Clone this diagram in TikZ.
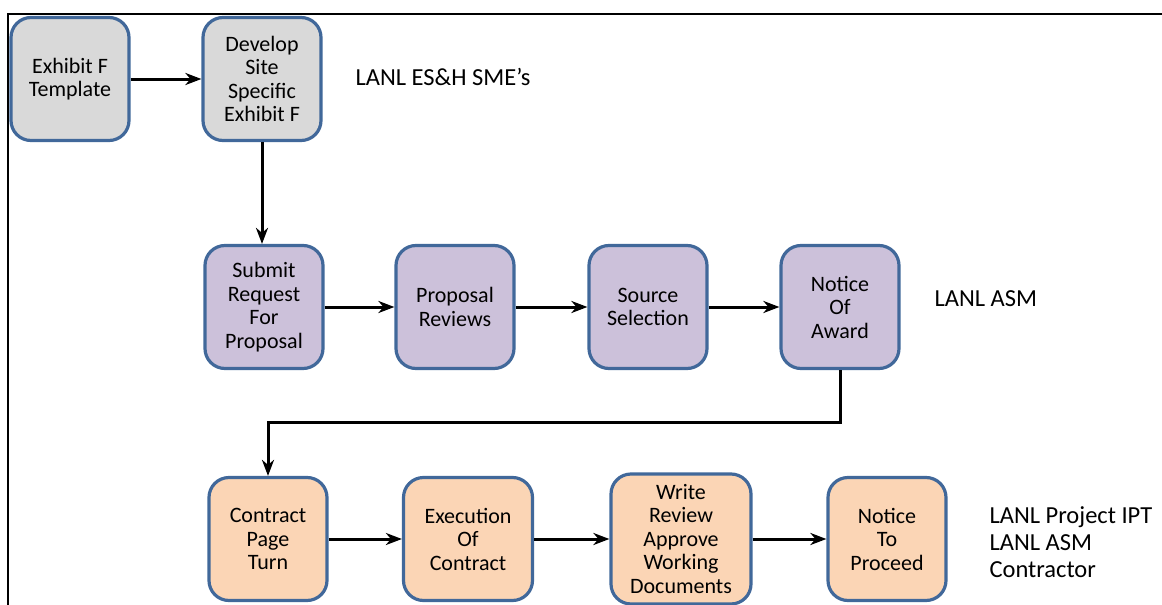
\documentclass[tikz,border=0pt]{standalone}
\usepackage{fontspec}
\setmainfont{Carlito}
\usetikzlibrary{arrows.meta}
\definecolor{boxblue}{HTML}{41689A}
\definecolor{boxgrey}{HTML}{D9D9D9}
\definecolor{boxlilac}{HTML}{CCC1DA}
\definecolor{boxpeach}{HTML}{FBD5B5}
\begin{document}
\begin{tikzpicture}[x=1pt,y=-1pt,>={Stealth[length=16pt,width=12pt,inset=5pt]},
 font=\fontsize{22}{23.5}\selectfont,
 box/.style={draw=boxblue,line width=3.2pt,rounded corners=20pt,align=center,minimum width=118pt,minimum height=123pt,inner sep=2pt},
 grey/.style={box,fill=boxgrey},
 lilac/.style={box,fill=boxlilac},
 peach/.style={box,fill=boxpeach},
 lbl/.style={anchor=west,align=left,font=\fontsize{24.5}{27}\selectfont},
 arr/.style={->,line width=3pt}]
\useasboundingbox (0,0) rectangle (1162,605);
\draw[line width=2.5pt] (8,605)--(8,14)--(1162,14);
\node[grey] (tmpl) at (70,79) {Exhibit F\\Template};
\node[grey] (site) at (262,79) {Develop\\Site\\Specific\\Exhibit F};
\node[lilac] (rfp) at (264,307) {Submit\\Request\\For\\Proposal};
\node[lilac] (rev) at (455,307) {Proposal\\Reviews};
\node[lilac] (sel) at (648,307) {Source\\Selection};
\node[lilac] (award) at (840,307) {Notice\\Of\\Award};
\node[peach] (turn) at (268,539) {Contract\\Page\\Turn};
\node[peach,minimum width=129pt] (exec) at (468,539) {Execution\\Of\\Contract};
\node[peach,minimum width=140pt,minimum height=130pt] (docs) at (681,539) {Write\\Review\\Approve\\Working\\Documents};
\node[peach] (ntp) at (887,539) {Notice\\To\\Proceed};
\node[lbl] (sme) at (352,77) {LANL ES\&H SME’s};
\node[lbl] (asm) at (931,299) {LANL ASM};
\node[lbl] (team) at (986,542) {LANL Project IPT\\LANL ASM\\Contractor};
\draw[arr] (tmpl.east)--(site.west);
\draw[arr] (site.south)--(site.south|-rfp.north);
\draw[arr] (rfp.east)--(rev.west);
\draw[arr] (rev.east)--(sel.west);
\draw[arr] (sel.east)--(award.west);
\draw[arr] (award.south)--++(0,52)-|(turn.north);
\draw[arr] (turn.east)--(exec.west);
\draw[arr] (exec.east)--(docs.west);
\draw[arr] (docs.east)--(ntp.west);
\end{tikzpicture}
\end{document}
